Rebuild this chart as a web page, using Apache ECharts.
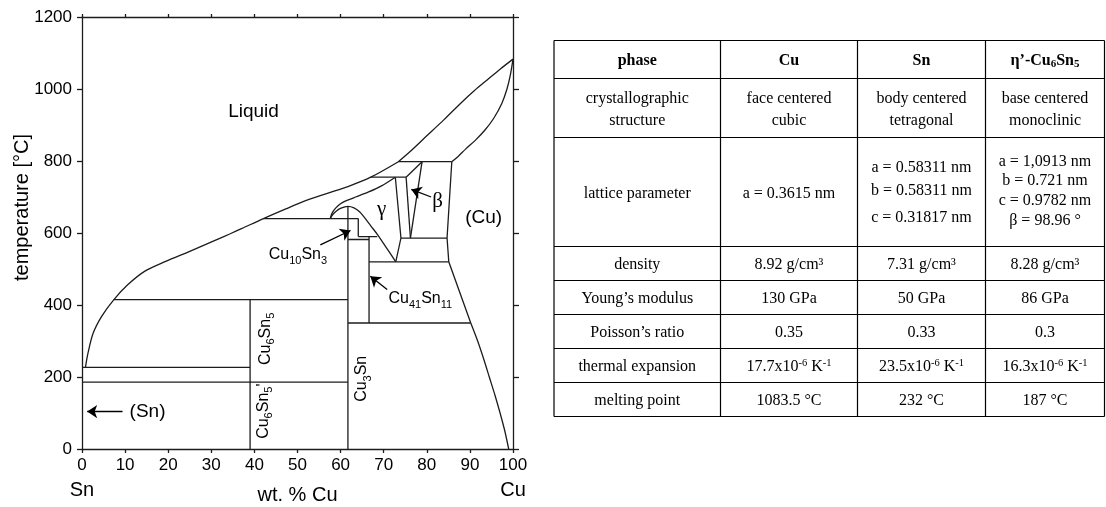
<!DOCTYPE html>
<html>
<head>
<meta charset="utf-8">
<script src="https://cdn.jsdelivr.net/npm/echarts@6/dist/echarts.min.js"></script>
<style>
html,body{margin:0;padding:0;background:#fff;}
#c{width:1106px;height:507px;}
</style>
</head>
<body>
<div id="c"></div>
<script>
// ---------------- DATA (wt.% Cu, temperature °C) ----------------
const xAxisTitle = 'wt. % Cu';
const yAxisTitle = 'temperature [°C]';
const axisEndLabels = ['Sn', 'Cu'];

// curved phase boundaries
const liquidusSn = [[0.8,227],[1.4,267],[2.6,322],[4.6,369],[7.4,415],[10.6,456],[14.6,494],[19.4,521],[25,549],[30.6,578],[34.4,598],[37,612],[42.1,640],[47.3,667],[51.3,687],[56.9,710],[61.7,729],[67,755],[73.4,798]];
const liquidusCu = [[73.4,798],[76,825],[80,870],[84,915],[88,962],[91,995],[94,1025],[97,1055],[100,1083]];
const solidusCu = [[100,1083],[99.4,1040],[98.6,1000],[97.4,960],[95.5,918],[93.5,886],[91.3,858],[89,833],[87.2,812],[85.8,798]];
const cuSolvusLow = [[90.2,350],[91.8,300],[93.2,250],[94.5,200],[95.8,150],[97,100],[98.1,50],[99,0]];
const gammaOuter = [[57.6,640],[57.9,652],[58.5,664],[59.4,676],[60.5,685],[61.8,692],[63.5,700],[66.5,714],[69.5,731],[72.7,755]];
const gammaInner = [[57.6,640],[58.1,650],[58.9,660],[60.1,669],[61.7,674],[63.1,670],[64.4,659],[65.6,642],[67,620],[68.6,595],[70.8,556],[72.8,520]];

// straight boundaries
const isotherms = [ // [xFrom, xTo, T]
  [73.4,85.8,798],[67,75.2,755],[42.1,64.1,640],[64.1,68.5,590],[74.0,84.7,586],
  [61.7,66.6,582],[66.6,85.1,520],[7.4,61.7,415],[61.7,90.2,350],[0,39,227],[0,61.7,186]
];
const verticals = [ // [x, Tfrom, Tto]
  [39,0,415],[61.7,0,674],[64.1,590,640],[66.6,350,590]
];
const slanted = [
  [[72.7,755],[74.0,586],[72.8,520]],
  [[75.2,755],[76.2,586]],
  [[78.9,798],[76.2,586]],
  [[75.2,755],[78.9,798]],
  [[85.8,798],[84.7,586],[85.1,520],[90.2,350]]
];
const arrows = [
  [[55.3,567],[62.3,607]],
  [[70.8,443],[66.9,480]],
  [[81.0,700],[76.4,721]],
  [[9.4,104],[1.2,104]]
];
const phaseLabelTexts = ['Liquid','(Cu)','(Sn)','γ','β','Cu10Sn3','Cu41Sn11','Cu6Sn5',"Cu6Sn5'",'Cu3Sn'];
const phaseLabelPos = [[39.8,938],[93.2,642],[15.2,104],[69.5,665],[82.5,688],[50.1,540],[78.5,418],[42.5,306],[42.1,105],[64.9,195]];

// table
const tableHeader = ['phase','Cu','Sn','η’-Cu6Sn5'];
const tableRowNames = [['crystallographic','structure'],['lattice parameter'],['density'],['Young’s modulus'],['Poisson’s ratio'],['thermal expansion'],['melting point']];
const tableCu = [['face centered','cubic'],['a = 0.3615 nm'],['8.92 g/cm³'],['130 GPa'],['0.35'],['17.7x10^-6 K^-1'],['1083.5 °C']];
const tableSn = [['body centered','tetragonal'],['a = 0.58311 nm','b = 0.58311 nm','c = 0.31817 nm'],['7.31 g/cm³'],['50 GPa'],['0.33'],['23.5x10^-6 K^-1'],['232 °C']];
const tableEta = [['base centered','monoclinic'],['a = 1,0913 nm','b = 0.721 nm','c = 0.9782 nm','β = 98.96 °'],['8.28 g/cm³'],['86 GPa'],['0.3'],['16.3x10^-6 K^-1'],['187 °C']];

// ---------------- LAYOUT / STYLE ----------------
const lineColor = '#1c1c1c';
const textColor = '#000';
const sans = 'Liberation Sans';
const serif = 'Liberation Serif';
const LW = 1.3;

function chemRich(t) {
  return t.replace(/(\d+)|([^\d]+)/g, (a, d, o) => d ? '{s|' + d + '}' : '{m|' + o + '}');
}

const segs = [];
isotherms.forEach(r => segs.push([[r[0], r[2]], [r[1], r[2]]]));
verticals.forEach(r => segs.push([[r[0], r[1]], [r[0], r[2]]]));
slanted.forEach(s => segs.push(s));

const curveSeries = [liquidusSn, liquidusCu, solidusCu, cuSolvusLow, gammaOuter, gammaInner].map(d => ({
  type: 'line', data: d, smooth: 0.3, symbol: 'none', showSymbol: false, silent: true,
  lineStyle: { color: lineColor, width: LW }, xAxisIndex: 0, yAxisIndex: 0, z: 3
}));

const chemRichStyles = {
  m: { fontSize: 16, fontFamily: sans, color: textColor, lineHeight: 20, textBorderWidth: 0 },
  s: { fontSize: 11, fontFamily: sans, color: textColor, lineHeight: 11, padding: [12, 0, 0, 0], textBorderWidth: 0 }
};

const labelData = phaseLabelTexts.map((t, i) => {
  const item = { value: phaseLabelPos[i], rt: t, label: {} };
  if (/\d/.test(t)) {
    item.rt = chemRich(t);
    item.label = { rich: chemRichStyles, rotate: (i >= 7 ? 90 : 0) };
  } else if (t === 'γ' || t === 'β') {
    item.label = { fontSize: 21, fontFamily: serif };
  } else {
    item.label = { fontSize: 19, fontFamily: sans };
  }
  return item;
});

// table graphics
const colX = [554, 720.5, 857.5, 985.5, 1104.5];
const rowY = [40.5, 78.5, 137.5, 246.5, 280.5, 314.5, 348.5, 382.5, 416.5];
const tableRich = {
  t: { fontSize: 16, fontFamily: serif, fill: '#000' },
  b: { fontSize: 16, fontFamily: serif, fontWeight: 'bold', fill: '#000' },
  bs: { fontSize: 11, fontFamily: serif, fontWeight: 'bold', fill: '#000', padding: [6, 0, 0, 0] },
  sup: { fontSize: 10.5, fontFamily: serif, fill: '#000', padding: [0, 0, 7, 0] }
};
function tableRichText(t) {
  return t.split(/(\^-?\d+)/).filter(p => p.length).map(p => p[0] === '^' ? '{sup|' + p.slice(1) + '}' : '{t|' + p + '}').join('');
}
function headerRichText(t) {
  if (/\d/.test(t)) return t.replace(/(\d+)|([^\d]+)/g, (a, d, o) => d ? '{bs|' + d + '}' : '{b|' + o + '}');
  return '{b|' + t + '}';
}
const graphics = [];
rowY.forEach(y => graphics.push({ type: 'line', silent: true, shape: { x1: colX[0], y1: y, x2: colX[4], y2: y }, style: { stroke: '#000', lineWidth: 1.2 } }));
colX.forEach(x => graphics.push({ type: 'line', silent: true, shape: { x1: x, y1: rowY[0], x2: x, y2: rowY[rowY.length - 1] }, style: { stroke: '#000', lineWidth: 1.2 } }));
function addText(str, cx, cy) {
  graphics.push({ type: 'text', silent: true, x: cx, y: cy, style: { text: str, rich: tableRich, align: 'center', verticalAlign: 'middle', fontSize: 16, fontFamily: serif, fill: '#000' } });
}
tableHeader.forEach((h, c) => addText(headerRichText(h), (colX[c] + colX[c + 1]) / 2, (rowY[0] + rowY[1]) / 2 + 1.5));
const offsetsFor = (n) => {
  if (n === 1) return [1.5];
  if (n === 2) return [-9.5, 12.5];
  if (n === 3) return [-24, -1.5, 26];
  return [-30, -11, 9, 29];
};
[tableRowNames, tableCu, tableSn, tableEta].forEach((col, c) => {
  col.forEach((cell, r) => {
    const cy = (rowY[r + 1] + rowY[r + 2]) / 2;
    const offs = offsetsFor(cell.length);
    cell.forEach((ln, k) => addText(tableRichText(ln), (colX[c] + colX[c + 1]) / 2, cy + offs[k]));
  });
});
graphics.push({ type: 'text', silent: true, x: 22.5, y: 207.5, rotation: Math.PI / 2,
  style: { text: yAxisTitle, fontSize: 20, fontFamily: sans, fill: textColor, align: 'center', verticalAlign: 'middle' } });

const axisLineStyle = { color: lineColor, width: LW };
const plain = v => String(v);
const option = {
  animation: false,
  backgroundColor: '#fff',
  grid: { left: 82, top: 17, width: 431, height: 432, outerBoundsMode: 'none' },
  xAxis: [
    { type: 'value', min: 0, max: 100, interval: 10, position: 'bottom',
      axisLine: { show: true, onZero: false, lineStyle: axisLineStyle },
      axisTick: { show: true, length: 4, lineStyle: axisLineStyle },
      axisLabel: { fontSize: 17, fontFamily: sans, color: textColor, margin: 8, showMinLabel: true, showMaxLabel: true, formatter: plain },
      splitLine: { show: false },
      name: xAxisTitle, nameLocation: 'middle', nameGap: 36,
      nameTextStyle: { fontSize: 20, fontFamily: sans, color: textColor } },
    { type: 'value', min: 0, max: 100, interval: 10, position: 'top',
      axisLine: { show: true, onZero: false, lineStyle: axisLineStyle },
      axisTick: { show: true, length: 3, lineStyle: axisLineStyle },
      axisLabel: { show: false }, splitLine: { show: false } },
    { type: 'value', min: 0, max: 100, interval: 100, position: 'bottom',
      axisLine: { show: false, onZero: false }, axisTick: { show: false }, splitLine: { show: false },
      axisLabel: { fontSize: 20, fontFamily: sans, color: textColor, margin: 31, showMinLabel: true, showMaxLabel: true,
        formatter: v => v === 0 ? axisEndLabels[0] : (v === 100 ? axisEndLabels[1] : '') } }
  ],
  yAxis: [
    { type: 'value', min: 0, max: 1200, interval: 200, position: 'left',
      axisLine: { show: true, onZero: false, lineStyle: axisLineStyle },
      axisTick: { show: true, length: 5, lineStyle: axisLineStyle },
      axisLabel: { fontSize: 17, fontFamily: sans, color: textColor, margin: 10, showMinLabel: true, showMaxLabel: true, formatter: plain },
      splitLine: { show: false } },
    { type: 'value', min: 0, max: 1200, interval: 200, position: 'right',
      axisLine: { show: true, onZero: false, lineStyle: axisLineStyle },
      axisTick: { show: true, length: 6, lineStyle: axisLineStyle },
      axisLabel: { show: false }, splitLine: { show: false } }
  ],
  series: [
    ...curveSeries,
    { type: 'lines', coordinateSystem: 'cartesian2d', xAxisIndex: 0, yAxisIndex: 0, polyline: true, silent: true,
      data: segs.map(c => ({ coords: c })), symbol: 'none',
      lineStyle: { color: lineColor, width: LW, opacity: 1, curveness: 0 }, z: 3 },
    { type: 'lines', coordinateSystem: 'cartesian2d', xAxisIndex: 0, yAxisIndex: 0, silent: true,
      data: arrows.map(c => ({ coords: c })), symbol: ['none', 'arrow'], symbolSize: 10,
      lineStyle: { color: '#000', width: 1.3, opacity: 1, curveness: 0 }, z: 4 },
    { type: 'scatter', xAxisIndex: 0, yAxisIndex: 0, symbolSize: 0, silent: true, z: 5,
      itemStyle: { opacity: 1, color: '#000' },
      data: labelData,
      label: { show: true, position: 'inside', align: 'center', verticalAlign: 'middle', color: textColor, opacity: 1,
        textBorderWidth: 0, textBorderColor: 'transparent', textShadowBlur: 0, formatter: p => p.data.rt } }
  ],
  graphic: graphics
};
const chart = echarts.init(document.getElementById('c'));
chart.setOption(option);
</script>
</body>
</html>
